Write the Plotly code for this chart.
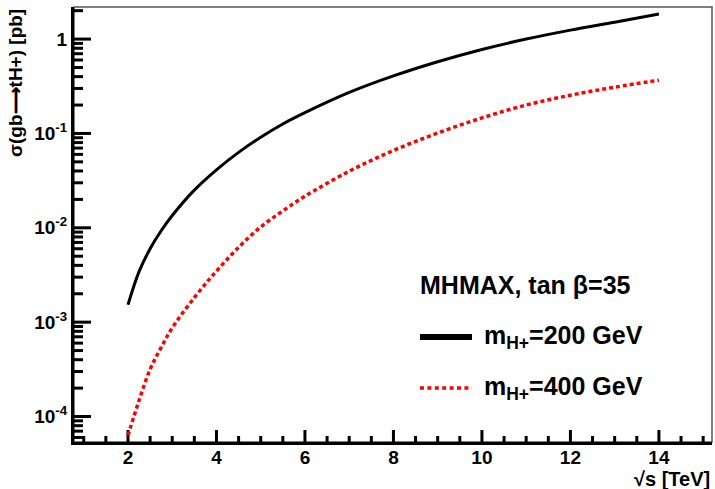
import math
import plotly.graph_objects as go

# Centre-of-mass energy sqrt(s) in TeV
sqrt_s = [2, 2.25, 2.5, 2.75, 3, 3.5, 4, 4.5, 5, 5.5, 6, 7, 8, 9, 10, 11, 12, 13, 14]

# sigma(gb -> tH+) in pb, MHMAX scenario, tan(beta) = 35
xsec_m200 = [1.53e-3, 3.43e-3, 6.0e-3, 9.3e-3, 0.0135, 0.0251, 0.0412, 0.063,
             0.0912, 0.126, 0.166, 0.272, 0.407, 0.575, 0.776, 1.0, 1.245,
             1.51, 1.84]
xsec_m400 = [6.3e-5, 1.48e-4, 3.16e-4, 5.4e-4, 8.7e-4, 1.82e-3, 3.47e-3, 6.2e-3,
             0.0102, 0.0151, 0.0216, 0.0398, 0.066, 0.101, 0.146, 0.20, 0.254,
             0.309, 0.367]

x_range = [0.78, 15.2]
y_range = [-4.27, 0.34]          # log10 of the y limits
x_major = [2, 4, 6, 8, 10, 12, 14]
x_major_text = ["<b>%d</b>" % v for v in x_major]
x_minor = [0.5 * i for i in range(2, 31) if (0.5 * i) not in x_major]
y_major = [1e-4, 1e-3, 1e-2, 1e-1, 1]
y_major_text = ["<b>10<sup>-4</sup></b>", "<b>10<sup>-3</sup></b>",
                "<b>10<sup>-2</sup></b>", "<b>10<sup>-1</sup></b>", "<b>1</b>"]
y_minor = [k * 10.0 ** e for e in range(-5, 1) for k in range(2, 10)
           if y_range[0] < math.log10(k * 10.0 ** e) < y_range[1]]

FONT = "Liberation Sans"

# plot-area size in pixels (figure size minus margins)
W, H = 715, 489
ML, MR, MT, MB = 74, 3, 7, 47
PW, PH = W - ML - MR, H - MT - MB

fig = go.Figure()

# inward-pointing ROOT-style ticks, drawn as short segments from the axes
y_bottom = 10 ** y_range[0]


def x_tick_top(px):
    return 10 ** (y_range[0] + px / PH * (y_range[1] - y_range[0]))


def y_tick_end(px):
    return x_range[0] + px / PW * (x_range[1] - x_range[0])


tick_x, tick_y = [], []
for vals, length in ((x_major, 12), (x_minor, 6)):
    for v in vals:
        tick_x += [v, v, None]
        tick_y += [y_bottom, x_tick_top(length), None]
for vals, length in ((y_major, 17), (y_minor, 9)):
    for v in vals:
        tick_x += [x_range[0], y_tick_end(length), None]
        tick_y += [v, v, None]
fig.add_trace(go.Scatter(x=tick_x, y=tick_y, mode="lines",
                         line=dict(color="black", width=3),
                         connectgaps=False, hoverinfo="skip", showlegend=False))

fig.add_trace(go.Scatter(
    x=sqrt_s, y=xsec_m200, mode="lines", line_shape="spline",
    line=dict(color="black", width=3), showlegend=False))
fig.add_trace(go.Scatter(
    x=sqrt_s, y=xsec_m400, mode="lines", line_shape="spline",
    line=dict(color="#ff0000", width=3.5, dash="4px,3px"), showlegend=False))

fig.update_layout(
    width=W, height=H,
    margin=dict(l=ML, r=MR, t=MT, b=MB),
    paper_bgcolor="white", plot_bgcolor="white",
    font=dict(family=FONT, size=19, color="black"),
    xaxis=dict(
        range=x_range, showgrid=False, zeroline=False,
        showline=True, linecolor="black", linewidth=3,
        tickmode="array", tickvals=x_major, ticktext=x_major_text,
        ticks="", ticklabelstandoff=-4,
        tickfont=dict(family=FONT, size=19, color="black"),
    ),
    yaxis=dict(
        type="log", range=y_range, showgrid=False, zeroline=False,
        showline=True, linecolor="black", linewidth=3,
        tickmode="array", tickvals=y_major, ticktext=y_major_text,
        ticks="", tickfont=dict(family=FONT, size=19, color="black"),
    ),
)

# thin frame on the top and right sides
fig.add_shape(type="rect", xref="paper", yref="paper", x0=0, y0=0, x1=1, y1=1,
              line=dict(color="#555555", width=1.5), layer="below")

# axis titles
fig.add_annotation(text="<b>σ(gb⟶tH+) [pb]</b>", xref="paper", yref="paper",
                   x=-0.0925, y=1.0, xanchor="center", yanchor="top",
                   textangle=-90, showarrow=False,
                   font=dict(family=FONT, size=19))
fig.add_annotation(text="<b>√s [TeV]</b>", xref="paper", yref="paper",
                   x=1.0, y=-0.086, xanchor="right", yanchor="middle",
                   showarrow=False, font=dict(family=FONT, size=20))

# legend block
LEG_FONT = dict(family=FONT, size=25, color="black")
fig.add_annotation(text="<b>MHMAX, tan β=35</b>", xref="paper", yref="paper",
                   x=0.539, y=0.361, xanchor="left", yanchor="middle",
                   showarrow=False, font=LEG_FONT)
fig.add_shape(type="line", xref="paper", yref="paper",
              x0=0.5423, x1=0.6238, y0=0.2414, y1=0.2414,
              line=dict(color="black", width=6))
fig.add_annotation(text="<b>m<sub>H+</sub>=200 GeV</b>", xref="paper", yref="paper",
                   x=0.6395, y=0.2414, xanchor="left", yanchor="middle",
                   showarrow=False, font=LEG_FONT)
fig.add_shape(type="line", xref="paper", yref="paper",
              x0=0.5423, x1=0.6238, y0=0.124, y1=0.124,
              line=dict(color="#ff0000", width=3.5, dash="4px,3.4px"))
fig.add_annotation(text="<b>m<sub>H+</sub>=400 GeV</b>", xref="paper", yref="paper",
                   x=0.6395, y=0.124, xanchor="left", yanchor="middle",
                   showarrow=False, font=LEG_FONT)

fig.write_html("out.html")
